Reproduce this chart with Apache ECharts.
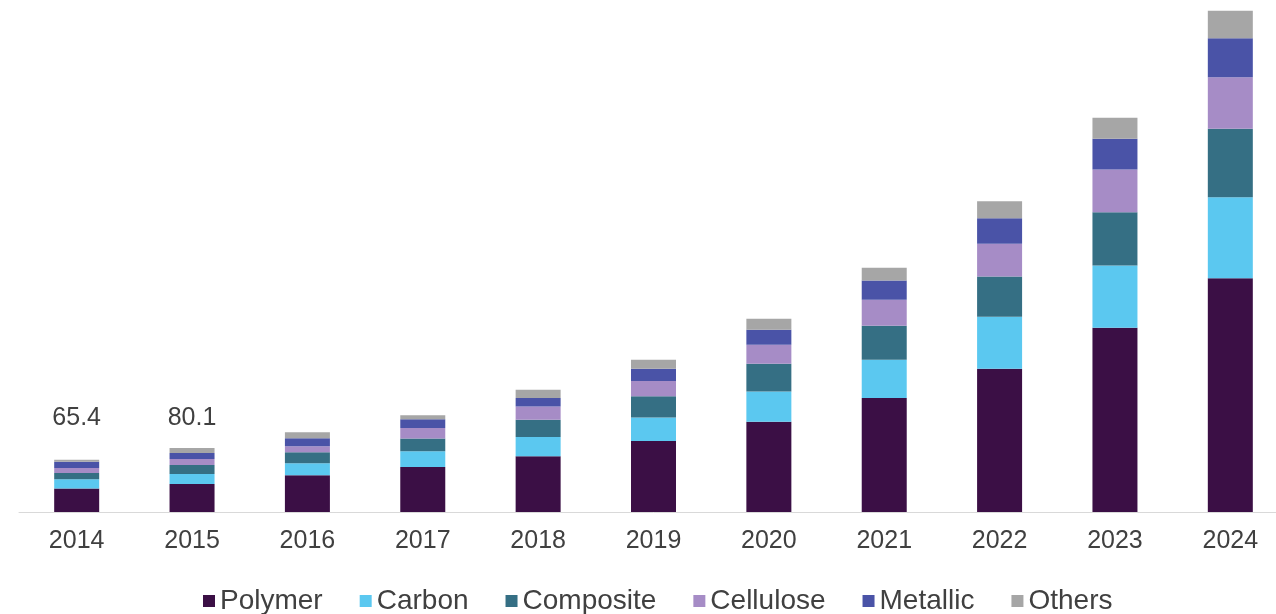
<!DOCTYPE html>
<html>
<head>
<meta charset="utf-8">
<script src="https://cdn.jsdelivr.net/npm/echarts@6/dist/echarts.min.js"></script>
<style>
  html, body { margin: 0; padding: 0; background: #fff; overflow: hidden; }
  /* wider than the window: the last bar runs right up to the page edge */
  #chart { width: 1290px; height: 614px; }
</style>
</head>
<body>
<div id="chart"></div>
<script>
var years = ['2014', '2015', '2016', '2017', '2018', '2019', '2020', '2021', '2022', '2023', '2024'];

var polymer   = [29.5, 35.0, 45.9, 56.3, 69.6, 88.8, 113.0, 142.5, 179.3, 230.5, 292.5];
var carbon    = [11.5, 12.5, 15.0, 19.6, 24.1, 29.3, 37.9, 48.0, 65.0, 77.9, 101.3];
var composite = [7.7, 11.3, 13.8, 15.9, 21.8, 26.6, 34.6, 42.5, 50.4, 66.6, 85.5];
var cellulose = [6.4, 7.5, 7.5, 13.3, 16.6, 19.1, 23.8, 32.5, 40.9, 53.4, 64.5];
var metallic  = [7.7, 7.5, 10.0, 10.9, 10.4, 15.5, 18.8, 24.1, 32.0, 38.4, 48.8];
var others    = [2.6, 6.3, 7.5, 5.0, 10.5, 11.3, 13.8, 15.9, 21.3, 26.3, 34.6];

// only the first two years carry a total label
var labelledYears = ['2014', '2015'];

var names = ['Polymer', 'Carbon', 'Composite', 'Cellulose', 'Metallic', 'Others'];
var values = [polymer, carbon, composite, cellulose, metallic, others];
var colors = ['#3b0f45', '#5bc8f0', '#356f84', '#a68cc6', '#4a53a7', '#a6a6a6'];

var totals = years.map(function (y, i) {
    var s = 0;
    values.forEach(function (arr) { s += arr[i]; });
    return s;
});

var font = "'Liberation Sans', Arial, sans-serif";
var labelDistance = [29, 17];

var chart = echarts.init(document.getElementById('chart'));

var series = names.map(function (name, k) {
    var data = values[k];
    if (k === names.length - 1) {
        data = data.map(function (v, i) {
            var idx = labelledYears.indexOf(years[i]);
            if (idx < 0) return v;
            return {
                value: v,
                label: {
                    show: true,
                    position: 'top',
                    distance: labelDistance[idx],
                    formatter: function () { return totals[i].toFixed(1); },
                    color: '#404040',
                    fontSize: 25,
                    fontFamily: font
                }
            };
        });
    }
    return {
        name: name,
        type: 'bar',
        stack: 'total',
        barWidth: 45,
        itemStyle: { color: colors[k] },
        emphasis: { disabled: true },
        data: data
    };
});

chart.setOption({
    animation: false,
    backgroundColor: '#ffffff',
    grid: { left: 19, width: 1269, top: 10, bottom: 102 },
    legend: {
        data: names,
        left: 198,
        top: 582,
        icon: 'rect',
        itemWidth: 12,
        itemHeight: 12,
        itemGap: 37,
        textStyle: { color: '#404040', fontSize: 28, fontFamily: font }
    },
    xAxis: {
        type: 'category',
        data: years,
        axisLine: { lineStyle: { color: '#d9d9d9', width: 1 } },
        axisTick: { show: false },
        axisLabel: { color: '#404040', fontSize: 25, fontFamily: font, margin: 17 }
    },
    yAxis: {
        type: 'value',
        min: 0,
        max: 628,
        show: false,
        splitLine: { show: false }
    },
    series: series
});
</script>
</body>
</html>
